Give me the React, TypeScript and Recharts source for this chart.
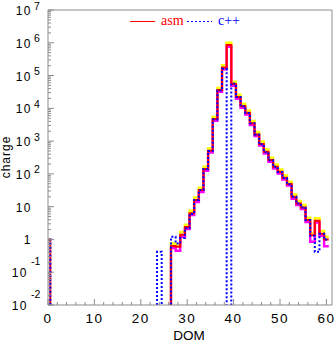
import React from 'react';
import { LineChart, Line, XAxis, YAxis, ReferenceLine } from 'recharts';

// empty bins (below the log axis floor)
const E = 1e-4;

// DOM bins 0..60 (bin n spans n-0.5 .. n+0.5)
const ASM = [
  1, E, E, E, E, E, E, E, E, E,
  E, E, E, E, E, E, E, E, E, E,
  E, E, E, E, E, E, E, 0.63, 0.6, 1.4,
  2.4, 6.3, 16, 32, 140, 510, 4700, 36000, 175000, 850000,
  55000, 22000, 11700, 7300, 3500, 1600, 820, 470, 265, 165,
  116, 76, 49, 20, 12.6, 9.5, 3.9, 1.35, 3.7, 1.5,
  1.0,
];

const CPP = [
  1, E, E, E, E, E, E, E, E, E,
  E, E, E, E, E, E, E, E, E, E,
  E, E, E, E, 0.42, E, E, 1.2, 0.75, 1.1,
  2.2, 6, 16, 32, 140, 500, 4600, 35000, 160000, E,
  57000, 22000, 11500, 7200, 3500, 1600, 800, 460, 260, 165,
  115, 75, 48, 20, 12.5, 9.5, 3.9, 1.3, 0.42, 1.5,
  1.0,
];

const HI = [
  E, E, E, E, E, E, E, E, E, E,
  E, E, E, E, E, E, E, E, E, E,
  E, E, E, E, E, E, E, 0.75, 0.7, 1.7,
  2.8, 7.5, 19, 38, 165, 600, 5500, 42000, 205000, 1000000,
  65000, 26000, 13800, 8600, 4100, 1900, 970, 550, 310, 195,
  137, 90, 58, 23.5, 15, 11.2, 4.6, 1.6, 4.4, 1.8,
  1.2,
];

const LO = [
  E, E, E, E, E, E, E, E, E, E,
  E, E, E, E, E, E, E, E, E, E,
  E, E, E, E, E, E, E, 0.55, 0.45, 1.2,
  2.1, 5.6, 14, 28, 125, 450, 4200, 32000, 155000, 760000,
  49000, 19500, 10400, 6500, 3100, 1420, 730, 420, 235, 147,
  103, 68, 44, 17.5, 11.2, 8.5, 3.4, 0.85, 3.3, 1.3,
  0.62,
];

const X_MAJOR = [0, 10, 20, 30, 40, 50, 60];
const X_MINOR_STEP = 2;
const X_MAX = 61.2;

const Y_MAJOR = [1e-2, 1e-1, 1, 10, 1e2, 1e3, 1e4, 1e5, 1e6, 1e7];
const Y_BASE = ['10', '10', '1', '10', '10', '10', '10', '10', '10', '10'];
const Y_EXP = ['-2', '-1', '', '', '2', '3', '4', '5', '6', '7'];

const LEGEND = [
  { name: 'asm', color: '#ff0000', dash: undefined },
  { name: 'c++', color: '#0000ff', dash: '2 2' },
];

const AXIS = '#8c8c8c';
const SANS = '"Liberation Sans", Arial, Helvetica, sans-serif';
const SERIF = '"Liberation Serif", "Times New Roman", serif';

const data = ASM.map((v, i) => ({ x: i - 0.5, asm: v, cpp: CPP[i], hi: HI[i], lo: LO[i] }));
data.push({ x: ASM.length - 0.5, asm: ASM[ASM.length - 1], cpp: CPP[CPP.length - 1], hi: HI[HI.length - 1], lo: LO[LO.length - 1] });

const xTicks: number[] = [];
for (let v = 0; v <= 60; v += X_MINOR_STEP) xTicks.push(v);

const yTicks: number[] = [];
Y_MAJOR.forEach((m, i) => {
  yTicks.push(m);
  if (i < Y_MAJOR.length - 1) for (let k = 2; k <= 9; k++) yTicks.push(m * k);
});

const majorIndex = (v: number) => {
  const l = Math.log10(v);
  if (Math.abs(l - Math.round(l)) > 1e-6) return -1;
  return Y_MAJOR.findIndex((m) => Math.abs(Math.log10(m) - l) < 1e-6);
};

const XTick = (props: any) => {
  const { x, y, payload } = props;
  const v = payload.value;
  const major = X_MAJOR.includes(v);
  return (
    <g>
      <line x1={x} x2={x} y1={y} y2={y - (major ? 6 : 3)} stroke={AXIS} />
      {major && (
        <text x={x} y={y + 18} textAnchor="middle" fontFamily={SANS} fontSize={13.5} letterSpacing={1.5} fill="#000">
          {v}
        </text>
      )}
    </g>
  );
};

const YTick = (props: any) => {
  const { x, y, payload } = props;
  const idx = majorIndex(payload.value);
  const major = idx >= 0;
  const exp = major ? Y_EXP[idx] : '';
  const neg = exp.startsWith('-');
  const baseEnd = neg ? 28 : 32;
  return (
    <g>
      <line x1={x} x2={x + (major ? 6 : 3)} y1={y} y2={y} stroke={AXIS} />
      {major && (
        <text x={baseEnd} y={y + 5} textAnchor="end" fontFamily={SANS} fontSize={12} letterSpacing={1.5} fill="#000">
          {Y_BASE[idx]}
        </text>
      )}
      {major && exp && (
        <text x={neg ? 31 : 34} y={neg ? y - 7 : y - 0.5} textAnchor="start" fontFamily={SANS} fontSize={10.5} fill="#000">
          {exp}
        </text>
      )}
    </g>
  );
};

export default function App() {
  return (
    <div style={{ position: 'absolute', left: 0, top: 0, width: 335, height: 342, background: '#fff' }}>
      <LineChart width={335} height={342} data={data} margin={{ top: 10, right: 3, left: 0, bottom: 0 }}>
        <XAxis
          dataKey="x"
          type="number"
          domain={[0, X_MAX]}
          allowDataOverflow
          ticks={xTicks}
          interval={0}
          tick={<XTick />}
          tickLine={false}
          tickSize={0}
          tickMargin={0}
          height={37}
          axisLine={{ stroke: AXIS }}
          label={{
            value: 'DOM',
            content: () => (
              <text x={189} y={340} textAnchor="middle" fontFamily={SANS} fontSize={13.5} fill="#000">
                DOM
              </text>
            ),
          }}
        />
        <YAxis
          scale="log"
          type="number"
          domain={[1e-2, 1e7]}
          allowDataOverflow
          ticks={yTicks}
          interval={0}
          tick={<YTick />}
          tickLine={false}
          tickSize={0}
          tickMargin={0}
          width={48}
          axisLine={{ stroke: AXIS }}
          label={{
            value: 'charge',
            content: () => (
              <text x={10} y={157} transform="rotate(-90 10 157)" textAnchor="middle" fontFamily={SANS} fontSize={12} letterSpacing={1} fill="#000">
                charge
              </text>
            ),
          }}
        />
        <ReferenceLine y={1e7} stroke={AXIS} />
        <ReferenceLine x={X_MAX} stroke={AXIS} />
        <Line dataKey="hi" type="stepAfter" stroke="#ffff00" strokeWidth={2.5} dot={false} isAnimationActive={false} />
        <Line dataKey="lo" type="stepAfter" stroke="#ff00ff" strokeWidth={2.5} dot={false} isAnimationActive={false} />
        <Line dataKey="asm" type="stepAfter" stroke="#ff0000" strokeWidth={2} dot={false} isAnimationActive={false} />
        <Line dataKey="cpp" type="stepAfter" stroke="#0000ff" strokeWidth={2} strokeDasharray="2 2" dot={false} isAnimationActive={false} />
      </LineChart>
      <svg style={{ position: 'absolute', left: 125, top: 10 }} width={130} height={20}>
        {LEGEND.map((item, i) => {
          const ox = i * 57;
          return (
            <g key={item.name}>
              <line x1={ox + 5} x2={ox + 30} y1={11.5} y2={11.5} stroke={item.color} strokeWidth={1} strokeDasharray={item.dash} />
              <text x={ox + 36} y={15} fontFamily={SERIF} fontSize={14} fill={item.color}>
                {item.name}
              </text>
            </g>
          );
        })}
      </svg>
    </div>
  );
}
